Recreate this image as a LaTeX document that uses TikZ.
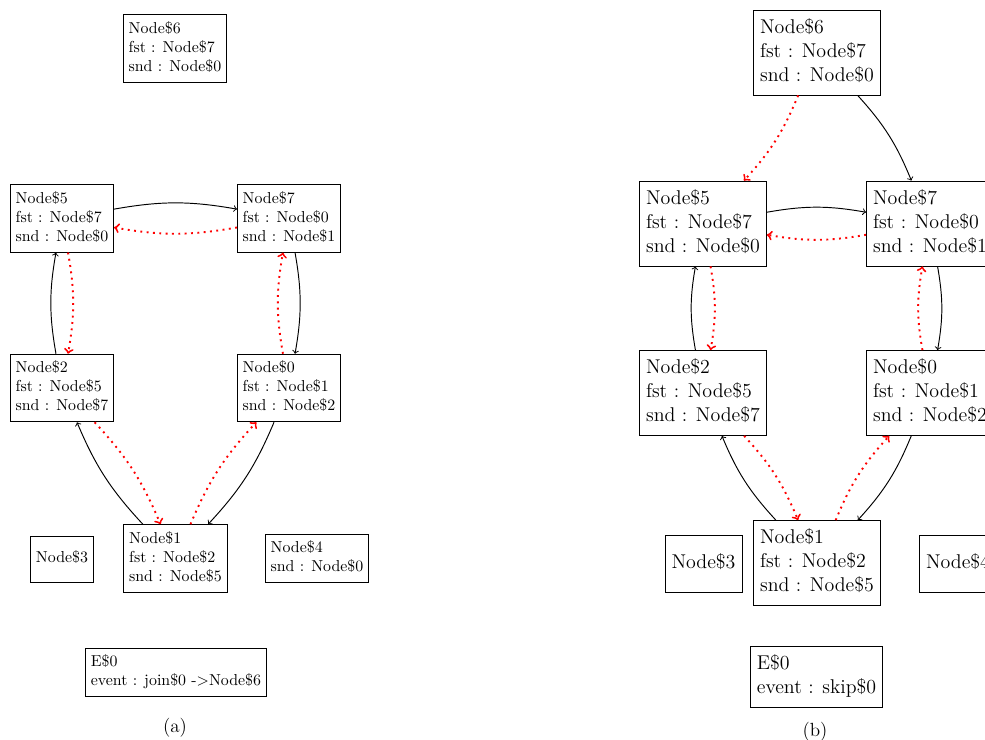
\documentclass[tikz,border=0pt]{standalone}
\newcommand\boxtext[1]{\begin{tabular}{@{}l@{}}#1\end{tabular}}
\tikzset{
  boxa/.style={draw, line width=0.5pt, inner sep=3.33pt, font=\fontsize{10}{12}\selectfont},
  boxb/.style={draw, line width=0.5pt, inner sep=4.18pt, font=\fontsize{12.55}{15.06}\selectfont},
  fedge/.style={->, line width=0.6pt, bend left=10},
  redge/.style={->, red, line width=1.2pt, dash pattern=on 1.2pt off 2.8pt, bend left=10},
  capa/.style={font=\fontsize{12}{14}\selectfont},
  capb/.style={font=\fontsize{12}{14}\selectfont},
}
\begin{document}
\begin{tikzpicture}[x=0.63pt, y=-0.63pt]
\useasboundingbox (0,0) rectangle (985,740);
\clip (0,0) rectangle (985,740);
% ---------- (a) ----------
\node[boxa] (a6) at (175,48.5) {\boxtext{Node\$6\\fst : Node\$7\\snd : Node\$0}};
\node[boxa] (a5) at (62,218.3) {\boxtext{Node\$5\\fst : Node\$7\\snd : Node\$0}};
\node[boxa] (a7) at (289,218.3) {\boxtext{Node\$7\\fst : Node\$0\\snd : Node\$1}};
\node[boxa] (a2) at (62,388) {\boxtext{Node\$2\\fst : Node\$5\\snd : Node\$7}};
\node[boxa] (a0) at (289,388) {\boxtext{Node\$0\\fst : Node\$1\\snd : Node\$2}};
\node[boxa] (a1) at (175.5,558.5) {\boxtext{Node\$1\\fst : Node\$2\\snd : Node\$5}};
\node[boxa, minimum height=29pt] (a3) at (62,559) {\boxtext{Node\$3}};
\node[boxa] (a4) at (317,558.5) {\boxtext{Node\$4\\snd : Node\$0}};
\node[boxa] (ae) at (176,672.5) {\boxtext{E\$0\\event : join\$0 ->Node\$6}};
\node[capa] (labela) at (175,728) {(a)};
\draw[fedge] (a5) to (a7);
\draw[redge] (a7) to (a5);
\draw[fedge] (a2) to (a5);
\draw[redge] (a5) to (a2);
\draw[fedge] (a7) to (a0);
\draw[redge] (a0) to (a7);
\draw[fedge] (a1) to (a2);
\draw[redge] (a2) to (a1);
\draw[fedge] (a0) to (a1);
\draw[redge] (a1) to (a0);
% ---------- (b) ----------
\node[boxb] (b6) at (817,52.5) {\boxtext{Node\$6\\fst : Node\$7\\snd : Node\$0}};
\node[boxb] (b5) at (703,223.5) {\boxtext{Node\$5\\fst : Node\$7\\snd : Node\$0}};
\node[boxb] (b7) at (930,223.5) {\boxtext{Node\$7\\fst : Node\$0\\snd : Node\$1}};
\node[boxb] (b2) at (703,393) {\boxtext{Node\$2\\fst : Node\$5\\snd : Node\$7}};
\node[boxb] (b0) at (930,393) {\boxtext{Node\$0\\fst : Node\$1\\snd : Node\$2}};
\node[boxb] (b1) at (817,563) {\boxtext{Node\$1\\fst : Node\$2\\snd : Node\$5}};
\node[boxb, minimum height=35.9pt] (b3) at (703.5,563.5) {\boxtext{Node\$3}};
\node[boxb, minimum height=35.9pt, anchor=west] (b4) at (919,563.5) {\boxtext{Node\$4}};
\node[boxb] (be) at (816.5,676.5) {\boxtext{E\$0\\event : skip\$0}};
\node[capb] (labelb) at (815,732) {(b)};
\draw[fedge] (b6) to (b7);
\draw[redge] (b6) to (b5);
\draw[fedge] (b5) to (b7);
\draw[redge] (b7) to (b5);
\draw[fedge] (b2) to (b5);
\draw[redge] (b5) to (b2);
\draw[fedge] (b7) to (b0);
\draw[redge] (b0) to (b7);
\draw[fedge] (b1) to (b2);
\draw[redge] (b2) to (b1);
\draw[fedge] (b0) to (b1);
\draw[redge] (b1) to (b0);
\end{tikzpicture}
\end{document}
